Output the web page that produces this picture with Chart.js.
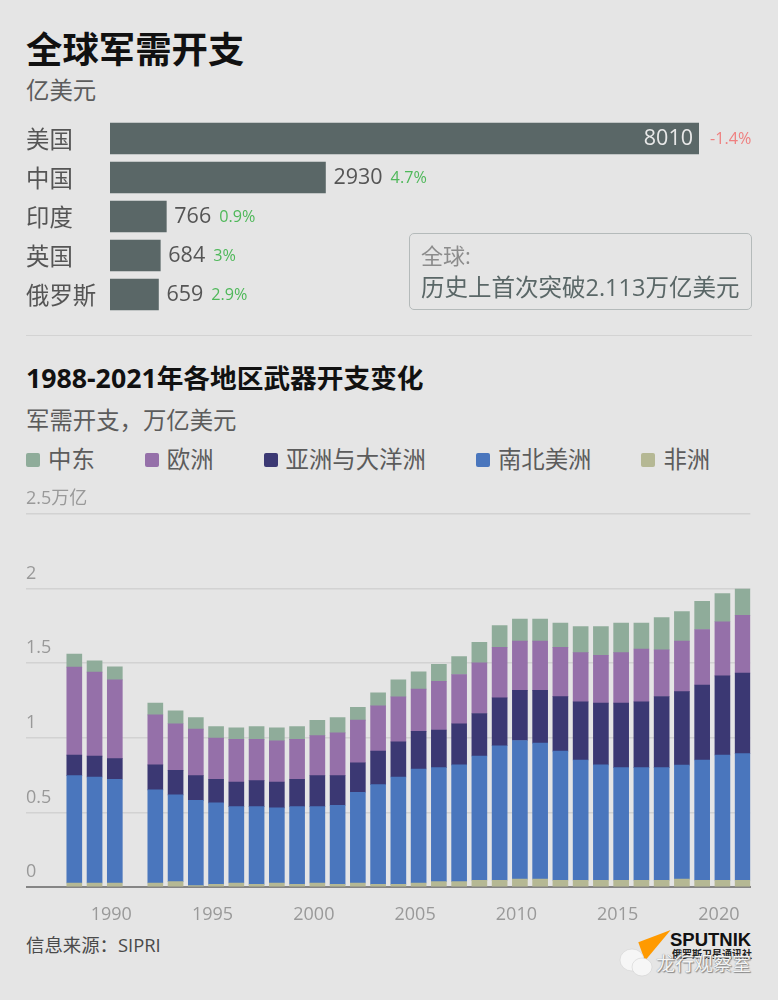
<!DOCTYPE html>
<html lang="zh">
<head>
<meta charset="utf-8">
<title>全球军需开支</title>
<script src="https://cdn.jsdelivr.net/npm/chart.js@4"></script>
<style>
  html, body { margin: 0; padding: 0; background: #e5e5e5; }
  body { position: relative; width: 778px; height: 1000px; overflow: hidden; font-family: "Open Sans", "Noto Sans CJK SC", sans-serif; color: #5c5c5c; }
  .abs { position: absolute; white-space: nowrap; line-height: 1; }
  canvas { position: absolute; display: block; }
  #title { left: 26px; top: 31px; font-size: 36.4px; font-weight: 700; color: #111; }
  #unit { left: 26px; top: 79px; font-size: 23.4px; }
  #divider { left: 26px; top: 335px; width: 726px; height: 1px; background: #d3d3d3; }
  #note { left: 409px; top: 233px; width: 341px; height: 75px; border: 1.5px solid #b4baba; border-radius: 5px; }
  #note div { position: absolute; left: 11px; white-space: nowrap; line-height: 1; }
  #note .a { top: 10px; font-size: 22px; color: #8c8c8c; }
  #note .b { top: 42px; font-size: 23.5px; color: #5a6767; }
  #title2 { left: 26px; top: 365px; font-size: 26.7px; font-weight: 700; color: #111; }
  #unit2 { left: 26px; top: 409px; font-size: 23.4px; }
  #legend { left: 26px; top: 448px; display: flex; gap: 50px; font-size: 23.4px; }
  #legend span { display: flex; align-items: center; }
  #legend i { display: inline-block; width: 14px; height: 14px; margin-right: 8px; border-radius: 2px; }
  #source { left: 26px; top: 936px; font-size: 18.4px; color: #4a4a4a; }
  #sputnik { left: 670px; top: 931px; font-size: 18.5px; font-weight: 700; color: #111; font-family: "Liberation Sans", sans-serif; }
  #sputnikCn { left: 672px; top: 949px; font-size: 10px; font-weight: 700; color: #222; }
  #mark { left: 656px; top: 955px; font-size: 19px; color: #f4f4f4; text-shadow: 0 0 1px #777, 1px 1px 1px #888; }
</style>
</head>
<body>
<div class="abs" id="title">全球军需开支</div>
<div class="abs" id="unit">亿美元</div>
<canvas id="topChart" style="left:0;top:119px"></canvas>
<div class="abs" id="note"><div class="a">全球:</div><div class="b">历史上首次突破2.113万亿美元</div></div>
<div class="abs" id="divider"></div>
<div class="abs" id="title2">1988-2021年各地区武器开支变化</div>
<div class="abs" id="unit2">军需开支，万亿美元</div>
<div class="abs" id="legend"></div>
<canvas id="regionChart" style="left:26px;top:480px"></canvas>
<div class="abs" id="source">信息来源：SIPRI</div>
<svg class="abs" style="left:615px;top:925px" width="70" height="60">
  <polygon points="55.7,5 23.3,17.3 30,35.7" fill="#ff9a00"/>
  <ellipse cx="17" cy="35" rx="12" ry="11" fill="#f6f6f6" stroke="#ccc" stroke-width="0.5"/>
  <ellipse cx="27" cy="42" rx="10" ry="9" fill="#f6f6f6" stroke="#ccc" stroke-width="0.5"/>
</svg>
<div class="abs" id="sputnik">SPUTNIK</div>
<div class="abs" id="sputnikCn">俄罗斯卫星通讯社</div>
<div class="abs" id="mark">龙行观察室</div>

<script>
// Top bars, 亿美元
const countries = ['美国', '中国', '印度', '英国', '俄罗斯'];
const spending = [8010, 2930, 766, 684, 659];
const changes = ['-1.4%', '4.7%', '0.9%', '3%', '2.9%'];

// Stacked bars, 万亿美元 (no data for 1991)
const years = [1988, 1989, 1990, 1992, 1993, 1994, 1995, 1996, 1997, 1998, 1999, 2000, 2001, 2002, 2003, 2004, 2005, 2006, 2007, 2008, 2009, 2010, 2011, 2012, 2013, 2014, 2015, 2016, 2017, 2018, 2019, 2020, 2021];
const africa = [.027, .027, .027, .027, .036, .009, .018, .027, .018, .027, .018, .027, .018, .027, .018, .018, .027, .036, .036, .045, .045, .053, .053, .045, .045, .045, .045, .045, .045, .053, .045, .045, .045];
const americas = [.719, .710, .695, .624, .581, .572, .546, .512, .521, .503, .521, .512, .530, .608, .668, .719, .764, .764, .782, .833, .902, .929, .911, .866, .806, .773, .755, .755, .755, .764, .806, .840, .849];
const asia = [.138, .140, .138, .167, .165, .165, .158, .165, .174, .174, .183, .207, .198, .198, .225, .236, .252, .252, .276, .285, .321, .336, .354, .365, .390, .414, .432, .441, .477, .492, .503, .530, .539];
const europe = [.590, .563, .528, .336, .312, .312, .276, .285, .276, .276, .267, .269, .287, .285, .303, .301, .283, .327, .330, .339, .339, .330, .330, .330, .330, .321, .339, .354, .312, .339, .372, .363, .388];
const middleEast = [.087, .076, .087, .078, .087, .078, .078, .078, .087, .087, .087, .102, .102, .087, .087, .114, .116, .114, .120, .138, .145, .147, .147, .163, .174, .192, .198, .174, .216, .198, .189, .189, .176];

const yearTicks = [1990, 1995, 2000, 2005, 2010, 2015, 2020];
const yTickLabels = ['0', '0.5', '1', '1.5', '2', '2.5万亿'];
const legendOrder = ['中东', '欧洲', '亚洲与大洋洲', '南北美洲', '非洲'];

const colors = {
  '中东': '#8fac9a',
  '欧洲': '#9570a9',
  '亚洲与大洋洲': '#3b3873',
  '南北美洲': '#4a76bd',
  '非洲': '#b5b894'
};

const FONT = '"Open Sans", "Noto Sans CJK SC", sans-serif';
Chart.defaults.animation = false;
Chart.defaults.responsive = false;
Chart.defaults.font.family = FONT;

// value and yearly change next to each bar
const barLabels = {
  id: 'barLabels',
  afterDatasetsDraw(chart) {
    const ctx = chart.ctx;
    const bars = chart.getDatasetMeta(0).data;
    ctx.save();
    ctx.textBaseline = 'middle';
    bars.forEach((bar, i) => {
      const text = String(spending[i]);
      ctx.font = '21.5px ' + FONT;
      const w = ctx.measureText(text).width;
      let pctX;
      if (i === 0) {
        ctx.textAlign = 'right';
        ctx.fillStyle = '#e8e8e8';
        ctx.fillText(text, bar.x - 6, bar.y);
        pctX = bar.x + 11;
      } else {
        ctx.textAlign = 'left';
        ctx.fillStyle = '#555';
        ctx.fillText(text, bar.x + 8, bar.y);
        pctX = bar.x + 8 + w + 8;
      }
      ctx.textAlign = 'left';
      ctx.font = '16.2px ' + FONT;
      ctx.fillStyle = changes[i].startsWith('-') ? '#ef8080' : '#4fb85a';
      ctx.fillText(changes[i], pctX, bar.y + 1);
    });
    ctx.restore();
  }
};

const topCanvas = document.getElementById('topChart');
topCanvas.width = 778;
topCanvas.height = 195;
new Chart(topCanvas, {
  type: 'bar',
  data: {
    labels: countries,
    datasets: [{ data: spending, backgroundColor: '#5a6767', barThickness: 31 }]
  },
  options: {
    indexAxis: 'y',
    layout: { padding: { left: 26, right: 79 } },
    plugins: { legend: { display: false }, tooltip: { enabled: false } },
    scales: {
      x: { display: false, min: 0, max: 8010 },
      y: {
        afterFit(axis) {
          axis.width = 84;
          axis.paddingTop = 0;
          axis.paddingBottom = 0;
        },
        grid: { display: false },
        border: { display: false },
        ticks: { crossAlign: 'far', labelOffset: 3, color: '#555', font: { size: 23.4 } }
      }
    }
  },
  plugins: [barLabels]
});

// legend is plain html, spacing in the source is wider than the built in one
document.getElementById('legend').innerHTML = legendOrder
  .map(name => `<span><i style="background:${colors[name]}"></i>${name}</span>`)
  .join('');

const regionCanvas = document.getElementById('regionChart');
regionCanvas.width = 726;
regionCanvas.height = 445;
new Chart(regionCanvas, {
  type: 'bar',
  data: {
    labels: years,
    datasets: [
      { label: '非洲', data: africa, backgroundColor: colors['非洲'] },
      { label: '南北美洲', data: americas, backgroundColor: colors['南北美洲'] },
      { label: '亚洲与大洋洲', data: asia, backgroundColor: colors['亚洲与大洋洲'] },
      { label: '欧洲', data: europe, backgroundColor: colors['欧洲'] },
      { label: '中东', data: middleEast, backgroundColor: colors['中东'] }
    ]
  },
  options: {
    barThickness: 15,
    layout: { padding: { top: 34 } },
    plugins: { legend: { display: false }, tooltip: { enabled: false } },
    scales: {
      x: {
        type: 'linear',
        stacked: true,
        offset: false,
        min: 1985.615,
        max: 2021.379,
        afterBuildTicks(axis) { axis.ticks = yearTicks.map(value => ({ value })); },
        afterFit(axis) { axis.height = 38; },
        grid: { display: false, offset: false },
        border: { color: '#858585', width: 2 },
        ticks: {
          color: '#999',
          font: { size: 18 },
          padding: 9,
          labelOffset: -3.5,
          maxRotation: 0,
          autoSkip: false,
          callback: v => String(v)
        }
      },
      y: {
        stacked: true,
        min: 0,
        max: 2.5,
        grid: { color: '#d2d2d2', lineWidth: 1.5, drawTicks: false },
        border: { display: false },
        ticks: {
          mirror: true,
          padding: 0,
          stepSize: 0.5,
          labelOffset: -15,
          color: '#999',
          font: { size: 18 },
          callback: (v, i) => yTickLabels[i]
        }
      }
    }
  }
});
</script>
</body>
</html>
